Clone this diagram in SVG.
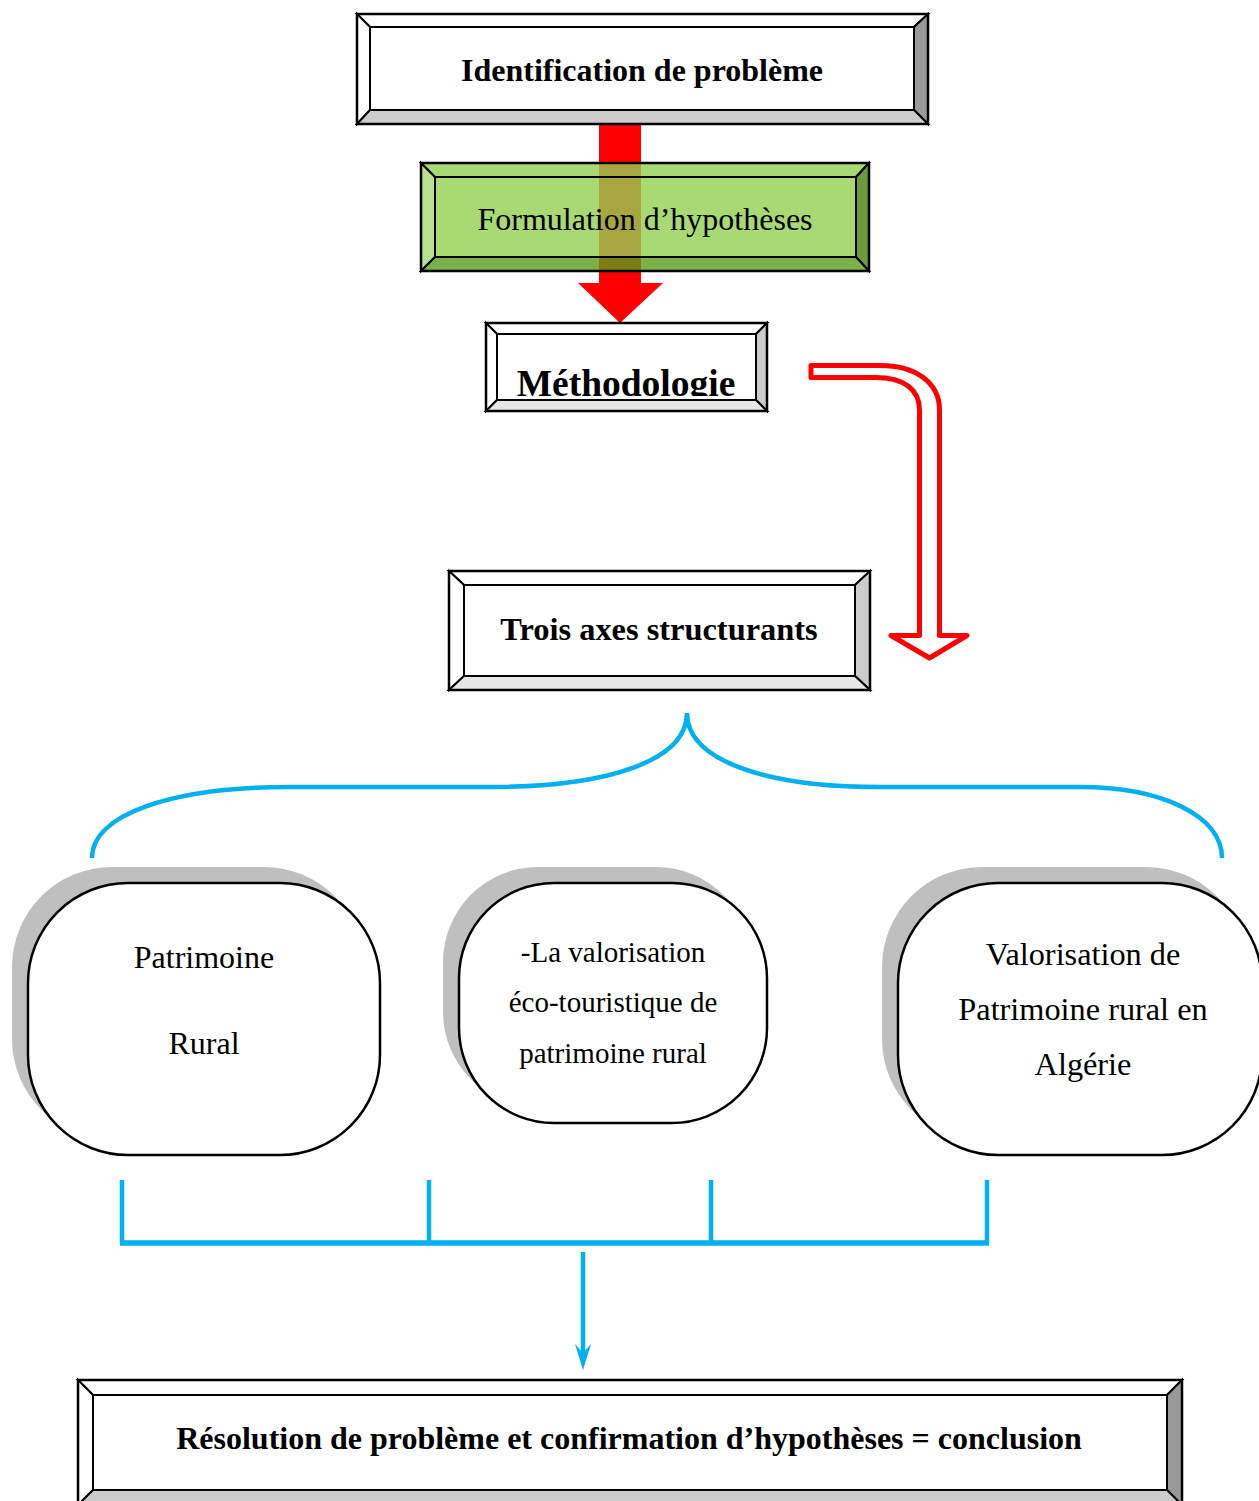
<svg xmlns="http://www.w3.org/2000/svg" width="1259" height="1501" viewBox="0 0 1259 1501">
<defs>
<style>
.bev{stroke:#000;stroke-width:2;stroke-linejoin:miter}
.out{fill:none;stroke:#000;stroke-width:2.5}
.tb{font-family:"Liberation Serif","Times New Roman",serif;font-weight:bold;fill:#000;text-anchor:middle}
.tn{font-family:"Liberation Serif","Times New Roman",serif;fill:#000;text-anchor:middle}
.blue{fill:none;stroke:#00B0F0;stroke-width:4.5}
.sh{fill:#BFBFBF}
.rb{fill:#fff;stroke:#000;stroke-width:2.5}
</style>
<clipPath id="clipM"><rect x="497" y="334" width="259" height="62"/></clipPath>
</defs>
<rect width="1259" height="1501" fill="#fff"/>

<g id="connectors">
  <g id="red-arrow">
    <rect x="599" y="124" width="42" height="160" fill="#FF0000"/>
    <polygon points="578,283 663,283 620,323" fill="#FF0000"/>
  </g>
  <path id="bent-arrow" d="M811,365.5 L880,365.5 C915,365.5 939.5,382 939.5,410 L939.5,635.5 L967,635.5 L929.5,658 L891,635.5 L919.5,635.5 L919.5,410 C919.5,390 905,377.5 875,377.5 L811,377.5 Z" fill="#fff" stroke="#FF0000" stroke-width="5" stroke-linejoin="round"/>
  <path id="brace" class="blue" d="M92,858 C92,815 170,787 290,787 L490,787 C610,787 687,760 687,713 C687,760 764,787 880,787 L1080,787 C1160,787 1222,815 1222,858"/>
  <g id="collector">
    <line class="blue" x1="122" y1="1180" x2="122" y2="1243"/>
    <line class="blue" x1="429" y1="1180" x2="429" y2="1243"/>
    <line class="blue" x1="711" y1="1180" x2="711" y2="1243"/>
    <line class="blue" x1="987" y1="1180" x2="987" y2="1243"/>
    <line x1="120" y1="1243" x2="989" y2="1243" stroke="#00B0F0" stroke-width="5.5"/>
    <line class="blue" x1="583" y1="1252" x2="583" y2="1358" stroke-width="4"/>
    <polygon points="575,1344 583,1370 591,1344 583,1353" fill="#00B0F0"/>
  </g>
</g>

<g id="node-identification">
  <polygon class="bev" fill="#fff" points="357,14 928,14 914,27 370,27"/>
  <polygon class="bev" fill="#fff" points="357,14 370,27 370,110 357,124"/>
  <polygon class="bev" fill="#999999" points="928,14 928,124 914,110 914,27"/>
  <polygon class="bev" fill="#CCCCCC" points="357,124 370,110 914,110 928,124"/>
  <rect x="370" y="27" width="544" height="83" fill="#fff" stroke="#000" stroke-width="2"/>
  <rect class="out" x="357" y="14" width="571" height="110"/>
  <text class="tb" x="642" y="81" font-size="32">Identification de problème</text>
</g>

<g id="node-formulation">
  <polygon class="bev" fill="#92D050" fill-opacity="0.8" points="421,163 869,163 856,177 435,177"/>
  <polygon class="bev" fill="#A6D874" fill-opacity="0.8" points="421,163 435,177 435,257 421,271"/>
  <polygon class="bev" fill="#45810B" fill-opacity="0.8" points="869,163 869,271 856,257 856,177"/>
  <polygon class="bev" fill="#5B9C1A" fill-opacity="0.8" points="421,271 435,257 856,257 869,271"/>
  <rect x="435" y="177" width="421" height="80" fill="#92D050" fill-opacity="0.8" stroke="#000" stroke-width="2"/>
  <rect class="out" x="421" y="163" width="448" height="108"/>
  <text class="tn" x="645" y="230" font-size="32">Formulation d’hypothèses</text>
</g>

<g id="node-methodologie">
  <polygon class="bev" fill="#fff" points="486,323 767,323 756,334 497,334"/>
  <polygon class="bev" fill="#fff" points="486,323 497,334 497,400 486,411"/>
  <polygon class="bev" fill="#CCCCCC" points="767,323 767,411 756,400 756,334"/>
  <polygon class="bev" fill="#E6E6E6" points="486,411 497,400 756,400 767,411"/>
  <rect x="497" y="334" width="259" height="66" fill="#fff" stroke="#000" stroke-width="2"/>
  <rect class="out" x="486" y="323" width="281" height="88"/>
  <text class="tb" x="626" y="396" font-size="37.5" clip-path="url(#clipM)">Méthodologie</text>
</g>

<g id="node-trois-axes">
  <polygon class="bev" fill="#fff" points="449,571 870,571 855,585 464,585"/>
  <polygon class="bev" fill="#fff" points="449,571 464,585 464,676 449,690"/>
  <polygon class="bev" fill="#CCCCCC" points="870,571 870,690 855,676 855,585"/>
  <polygon class="bev" fill="#E6E6E6" points="449,690 464,676 855,676 870,690"/>
  <rect x="464" y="585" width="391" height="91" fill="#fff" stroke="#000" stroke-width="2"/>
  <rect class="out" x="449" y="571" width="421" height="119"/>
  <text class="tb" x="659" y="640" font-size="32.4">Trois axes structurants</text>
</g>

<g id="node-patrimoine-rural">
  <rect class="sh" x="12" y="867" width="352" height="272" rx="100" ry="100"/>
  <rect class="rb" x="28" y="883" width="352" height="272" rx="100" ry="100"/>
  <text class="tn" x="204" y="968" font-size="32">Patrimoine</text>
  <text class="tn" x="204" y="1054" font-size="32">Rural</text>
</g>

<g id="node-valorisation-eco">
  <rect class="sh" x="443" y="867" width="308" height="240" rx="95" ry="95"/>
  <rect class="rb" x="459" y="883" width="308" height="240" rx="95" ry="95"/>
  <text class="tn" x="613" y="962" font-size="29">-La valorisation</text>
  <text class="tn" x="613" y="1012" font-size="29">éco-touristique de</text>
  <text class="tn" x="613" y="1063" font-size="29">patrimoine rural</text>
</g>

<g id="node-valorisation-algerie">
  <rect class="sh" x="882" y="867" width="364" height="272" rx="100" ry="100"/>
  <rect class="rb" x="898" y="883" width="364" height="272" rx="100" ry="100"/>
  <text class="tn" x="1083" y="965" font-size="32.3">Valorisation de</text>
  <text class="tn" x="1083" y="1020" font-size="32.3">Patrimoine rural en</text>
  <text class="tn" x="1083" y="1075" font-size="32.3">Algérie</text>
</g>

<g id="node-resolution">
  <polygon class="bev" fill="#fff" points="78,1380 1182,1380 1167,1395 93,1395"/>
  <polygon class="bev" fill="#fff" points="78,1380 93,1395 93,1490 78,1505"/>
  <polygon class="bev" fill="#999999" points="1182,1380 1182,1505 1167,1490 1167,1395"/>
  <polygon class="bev" fill="#CCCCCC" points="78,1505 93,1490 1167,1490 1182,1505"/>
  <rect x="93" y="1395" width="1074" height="95" fill="#fff" stroke="#000" stroke-width="2"/>
  <rect class="out" x="78" y="1380" width="1104" height="125"/>
  <text class="tb" x="629" y="1449" font-size="32">Résolution de problème et confirmation d’hypothèses = conclusion</text>
</g>
</svg>
